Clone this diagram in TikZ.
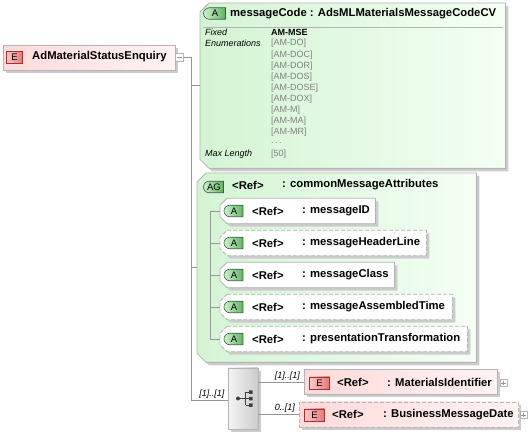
\documentclass[tikz,border=0pt]{standalone}
\usepackage{fontspec}
\setmainfont{Liberation Sans}
\usetikzlibrary{shapes.misc,shadows}

\definecolor{linegray}{RGB}{150,150,150}
\definecolor{boxgray}{RGB}{180,180,180}
\definecolor{attrgreen}{RGB}{212,244,212}
\definecolor{attrlight}{RGB}{244,255,244}
\definecolor{elempink}{RGB}{255,218,218}
\definecolor{elemlight}{RGB}{255,243,243}
\definecolor{badgegreen}{RGB}{95,180,95}
\definecolor{badgegreenlight}{RGB}{205,240,205}
\definecolor{badgegreenborder}{RGB}{60,90,60}
\definecolor{badgered}{RGB}{228,120,120}
\definecolor{badgeredlight}{RGB}{252,200,200}
\definecolor{badgeredborder}{RGB}{165,50,50}
\definecolor{enumgray}{RGB}{128,128,128}

% outline with the two left corners cut off
\newcommand{\chamferpath}[2]{([xshift=#2]#1.north west) -- (#1.north east) -- (#1.south east) -- ([xshift=#2]#1.south west) -- ([yshift=#2]#1.south west) -- ([yshift=-#2]#1.north west) -- cycle}

\begin{document}
\begin{tikzpicture}[x=1pt, y=-1pt,
    connector/.style={draw=linegray, line width=0.8pt},
    shadowed/.style={drop shadow={shadow xshift=3pt, shadow yshift=-3pt, fill=black!20, opacity=1}},
    box/.style={draw=boxgray, line width=0.8pt, inner sep=0, shadowed},
    optional/.style={dash pattern=on 4pt off 2pt},
    frame/.style={rectangle, inner sep=0},
    element/.style={box, rectangle, left color=elempink, right color=elemlight, minimum height=25},
    group fill/.style={box, left color=attrgreen, right color=attrlight},
    attribute fill/.style={box, fill=white},
    a badge/.style={rounded rectangle, rounded rectangle right arc=none, draw=badgegreenborder, line width=0.6pt, left color=badgegreenlight, right color=badgegreen, minimum height=11.5, minimum width=#1, inner sep=0, font=\fontsize{9.5}{10}\selectfont},
    e badge/.style={rectangle, draw=badgeredborder, line width=0.6pt, left color=badgeredlight, right color=badgered, minimum height=12, minimum width=#1, inner sep=0, font=\fontsize{9.5}{10}\selectfont},
    expander/.style={rectangle, draw=boxgray, fill=white, minimum size=8, inner sep=0},
    title text/.style={anchor=west, inner sep=0, font=\bfseries\fontsize{11.3}{13}\selectfont},
    prop text/.style={anchor=west, inner sep=0, font=\itshape\fontsize{9}{10}\selectfont},
    enum text/.style={anchor=west, inner sep=0, text=enumgray, font=\fontsize{9}{10}\selectfont},
    card text/.style={anchor=south east, inner sep=0, yshift=1.5pt, font=\itshape\fontsize{9}{10}\selectfont}
]
\useasboundingbox (0,0) rectangle (528,435);

% Root element
\node[element, minimum width=172, anchor=north west] (root) at (3,45) {};
\node[e badge=16] (rootbadge) at (14.5,57.5) {E};
\node[title text] (roottitle) at (32,57) {AdMaterialStatusEnquiry};
\node[expander] (rootminus) at (179.5,57) {};
\draw[linegray] ([xshift=2pt]rootminus.west) -- ([xshift=-2pt]rootminus.east);

% messageCode attribute
\node[frame, minimum width=305, minimum height=165, anchor=north west] (code) at (200,3) {};
\path[group fill] \chamferpath{code}{9pt};
\node[a badge=22] (codebadge) at (215,13.5) {A};
\node[title text] (codetitle) at (230,13.5) {messageCode : AdsMLMaterialsMessageCodeCV};
\draw[boxgray, line width=0.8pt] (203,27) -- (503,27);
\node[prop text] (fixed) at (205,32.5) {Fixed};
\node[prop text] (enumerations) at (205,43.6) {Enumerations};
\node[prop text] (maxlength) at (205,154.6) {Max Length};
\node[enum text, text=black, font=\bfseries\fontsize{9}{10}\selectfont] (enum0) at (271,32.5) {AM-MSE};
\foreach \v [count=\i] in {[AM-DO],[AM-DOC],[AM-DOR],[AM-DOS],[AM-DOSE],[AM-DOX],[AM-M],[AM-MA],[AM-MR]}
    \node[enum text] (enum\i) at (271,32.5+11.1*\i) {\v};
\node[enum text] (enumdots) at (271,143.5) {.\,.\,.};
\node[enum text] (maxvalue) at (271,154.6) {[50]};

% commonMessageAttributes group
\node[frame, minimum width=279, minimum height=189, anchor=north west] (group) at (197,173) {};
\path[group fill] \chamferpath{group}{9pt};
\node[a badge=20] (groupbadge) at (214,187) {AG};
\node[title text] (groupref) at (232,185) {<Ref>};
\node[title text] (grouptitle) at (282,185) {: commonMessageAttributes};

\node[frame, minimum width=155, minimum height=25, anchor=west] (id) at (220,211) {};
\node[frame, minimum width=206, minimum height=25, anchor=west] (header) at (220,243) {};
\node[frame, minimum width=174, minimum height=25, anchor=west] (class) at (220,275) {};
\node[frame, minimum width=232, minimum height=25, anchor=west] (time) at (220,307) {};
\node[frame, minimum width=247, minimum height=25, anchor=west] (trans) at (220,339) {};
\path[attribute fill] \chamferpath{id}{7pt};
\path[attribute fill, optional] \chamferpath{header}{7pt};
\path[attribute fill] \chamferpath{class}{7pt};
\path[attribute fill, optional] \chamferpath{time}{7pt};
\path[attribute fill, optional] \chamferpath{trans}{7pt};

\node[a badge=19] (idbadge) at (234,211) {A};
\node[title text] (idref) at (252,211) {<Ref>};
\node[title text] (idtitle) at (302,211) {: messageID};
\node[a badge=19] (headerbadge) at (234,243) {A};
\node[title text] (headerref) at (252,243) {<Ref>};
\node[title text] (headertitle) at (302,243) {: messageHeaderLine};
\node[a badge=19] (classbadge) at (234,275) {A};
\node[title text] (classref) at (252,275) {<Ref>};
\node[title text] (classtitle) at (302,275) {: messageClass};
\node[a badge=19] (timebadge) at (234,307) {A};
\node[title text] (timeref) at (252,307) {<Ref>};
\node[title text] (timetitle) at (302,307) {: messageAssembledTime};
\node[a badge=19] (transbadge) at (234,339) {A};
\node[title text] (transref) at (252,339) {<Ref>};
\node[title text] (transtitle) at (302,339) {: presentationTransformation};

\draw[connector] (id.west) -- ++(-10,0) |- (trans.west);
\draw[connector] (header.west) -- ++(-10,0);
\draw[connector] (class.west) -- ++(-10,0);
\draw[connector] (time.west) -- ++(-10,0);

% Sequence compositor
\node[box, rectangle, left color=black!4, right color=black!20, minimum width=30, minimum height=61] (seq) at (243,398.5) {};
\begin{scope}[shift={(seq.center)}]
    \fill[black!75] (-5,0) circle (2);
    \draw[black!75, line width=0.8pt] (-5,0) -- (7,0) (2.5,-6.5) -- (2.5,6.5) (2.5,-6.5) -- (7,-6.5) (2.5,6.5) -- (7,6.5);
    \fill[black!75] (6,-8.2) rectangle ++(3.5,3.5) (6,-1.7) rectangle ++(3.5,3.5) (6,4.8) rectangle ++(3.5,3.5);
\end{scope}

% Trunk
\coordinate (trunk) at (191,400);
\draw[connector] (rootminus.east) -| (trunk) -- (trunk -| seq.west);
\draw[connector] (code.west) -- (code.west -| trunk);
\draw[connector] (group.west) -- (group.west -| trunk);
\node[card text] (seqcard) at ([xshift=-3pt]trunk -| seq.west) {[1]..[1]};

% Sequence children
\node[element, minimum width=193, anchor=west] (matid) at (304,382) {};
\node[e badge=20] (matidbadge) at (319.5,383) {E};
\node[title text] (matidref) at (337,382) {<Ref>};
\node[title text] (matidtitle) at (387,382) {: MaterialsIdentifier};
\node[expander, minimum size=7] (matidplus) at (503.5,383) {};
\draw[linegray] ([xshift=1.5pt]matidplus.west) -- ([xshift=-1.5pt]matidplus.east) ([yshift=-1.5pt]matidplus.north) -- ([yshift=1.5pt]matidplus.south);

\node[element, optional, minimum width=219, anchor=west] (bmdate) at (299,414.5) {};
\node[e badge=20] (bmdatebadge) at (314.5,415) {E};
\node[title text] (bmdateref) at (332,414.5) {<Ref>};
\node[title text] (bmdatetitle) at (383,414.5) {: BusinessMessageDate};
\node[expander, minimum size=7] (bmdateplus) at (523.5,415) {};
\draw[linegray] ([xshift=1.5pt]bmdateplus.west) -- ([xshift=-1.5pt]bmdateplus.east) ([yshift=-1.5pt]bmdateplus.north) -- ([yshift=1.5pt]bmdateplus.south);

\draw[connector] (seq.east |- matid.west) -- (matid.west);
\draw[connector] (seq.east |- bmdate.west) -- (bmdate.west);
\node[card text] (matidcard) at ([xshift=-4pt]matid.west) {[1]..[1]};
\node[card text] (bmdatecard) at ([xshift=-4pt]bmdate.west) {0..[1]};

\end{tikzpicture}
\end{document}
